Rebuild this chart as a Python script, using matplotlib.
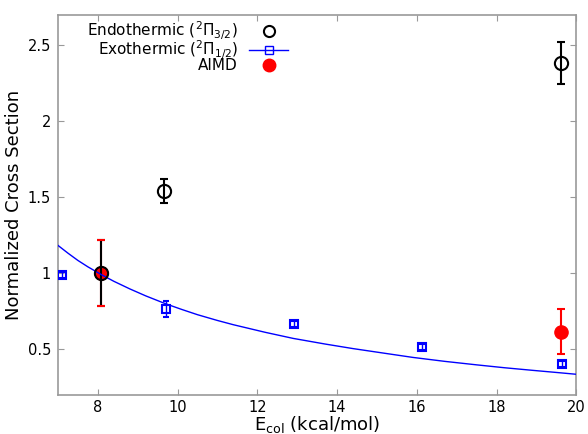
import matplotlib.pyplot as plt
from matplotlib.lines import Line2D

# Endothermic (2Pi 3/2) measurements
endo_e = [8.07, 9.67, 19.62]
endo_s = [1.00, 1.54, 2.385]
endo_err = [0.217, 0.08, 0.14]

# Exothermic (2Pi 1/2) measurements
exo_e = [7.09, 9.70, 12.93, 16.13, 19.64]
exo_s = [0.99, 0.765, 0.665, 0.515, 0.406]
exo_err = [0.02, 0.05, 0.02, 0.02, 0.02]

# Exothermic curve
curve_e = [7.0, 7.25, 7.5, 7.75, 8.1, 8.4, 8.8, 9.2, 9.7, 10.1, 10.5, 11.0, 11.4, 12.2,
           12.9, 13.7, 14.4, 15.2, 15.9, 16.7, 17.5, 18.2, 18.9, 19.5, 20.0]
curve_s = [1.184, 1.133, 1.085, 1.043, 0.99, 0.948, 0.898, 0.852, 0.80, 0.763, 0.728,
           0.69, 0.662, 0.612, 0.572, 0.535, 0.505, 0.474, 0.447, 0.421, 0.398, 0.379,
           0.362, 0.348, 0.336]

# AIMD results
aimd_e = [8.07, 19.62]
aimd_s = [1.00, 0.617]
aimd_err = [0.217, 0.15]

plt.rcParams.update({"font.family": "DejaVu Sans"})

fig = plt.figure(figsize=(5.88, 4.34), dpi=100)
ax = fig.add_axes([0.0986, 0.09, 0.8814, 0.8754])

# AIMD: bar under the black one, caps on top, marker under the open circle
ln, caps, bars = ax.errorbar(aimd_e, aimd_s, yerr=aimd_err, fmt="o", color="red",
                             ms=9.5, capsize=3, elinewidth=1.5, capthick=1.5)
ln.set_zorder(2)
bars[0].set_zorder(2)
for c in caps:
    c.set_zorder(6)

ln2, caps2, bars2 = ax.errorbar(endo_e, endo_s, yerr=endo_err, fmt="o", mfc="none",
                                mec="black", mew=1.5, ms=9.5, color="black",
                                capsize=3, elinewidth=1.5, capthick=1.5)
ln2.set_zorder(5)
bars2[0].set_zorder(3)
for c in caps2:
    c.set_zorder(3)

ax.errorbar(exo_e, exo_s, yerr=exo_err, fmt="s", mfc="none", mec="blue", mew=1.5,
            ms=6, color="blue", capsize=2.5, elinewidth=1, capthick=1, zorder=3)
ax.plot(curve_e, curve_s, color="blue", lw=1, zorder=4.5)

ax.set_xlim(7, 20)
ax.set_ylim(0.2, 2.7)
ax.set_xticks([8, 10, 12, 14, 16, 18, 20])
ax.set_yticks([0.5, 1, 1.5, 2, 2.5])
ax.set_yticklabels(["0.5", "1", "1.5", "2", "2.5"])
ax.tick_params(direction="in", top=True, right=True, length=4, color="#999999",
               labelsize=10.5, pad=5)
ax.tick_params(axis="x", pad=3.5)
for s in ax.spines.values():
    s.set_color("#999999")
    s.set_linewidth(1.2)

ax.set_xlabel("E$_{\\rm col}$ (kcal/mol)", fontsize=13)
ax.xaxis.set_label_coords(0.5, -0.049)
ax.set_ylabel("Normalized Cross Section", fontsize=13)
ax.yaxis.set_label_coords(-0.068, 0.5)

handles = [
    Line2D([], [], ls="none", marker="o", mfc="none", mec="black", mew=1.5, ms=8),
    Line2D([], [], color="blue", lw=1, marker="s", mfc="none", mec="blue", mew=1, ms=6),
    Line2D([], [], ls="none", marker="o", color="red", ms=9),
]
labels = ["Endothermic ($^2\\Pi_{3/2}$)", "Exothermic ($^2\\Pi_{1/2}$)", "AIMD"]
ax.legend(handles, labels, loc="upper left", bbox_to_anchor=(0.03, 1.025),
          frameon=False, markerfirst=False, fontsize=11, handlelength=2.6,
          labelspacing=-0.22, handletextpad=0.7)

fig.savefig("out.png", dpi=100)
